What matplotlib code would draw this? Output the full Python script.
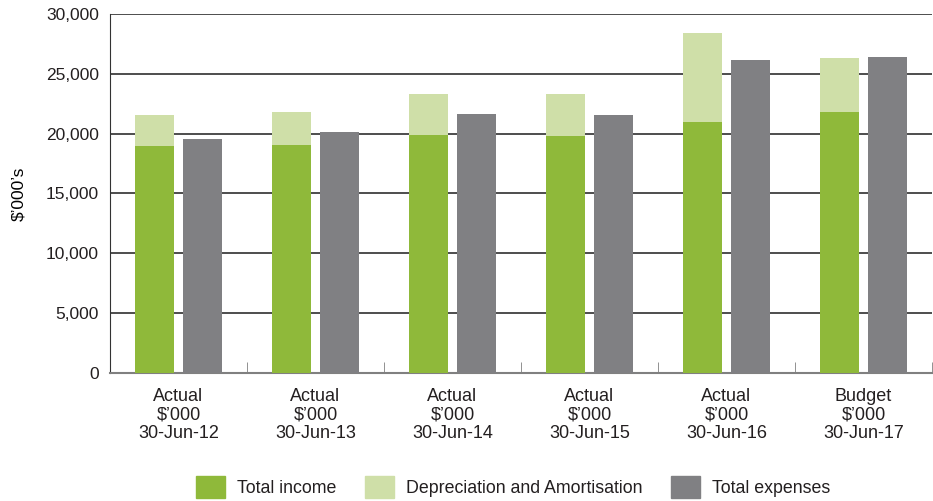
import numpy as np
import matplotlib.pyplot as plt
from matplotlib.patches import Patch
from matplotlib.ticker import FuncFormatter, MultipleLocator

plt.rcParams['font.family'] = ['Liberation Sans', 'DejaVu Sans']

# --- datos ---
categorias = ['Actual\n$’000\n30-Jun-12', 'Actual\n$’000\n30-Jun-13',
              'Actual\n$’000\n30-Jun-14', 'Actual\n$’000\n30-Jun-15',
              'Actual\n$’000\n30-Jun-16', 'Budget\n$’000\n30-Jun-17']
ingresos = [18960, 19020, 19890, 19810, 20950, 21780]
depreciacion = [2570, 2760, 3430, 3510, 7450, 4530]
gastos = [19520, 20110, 21650, 21560, 26140, 26390]

verde = '#8fb93a'
verde_claro = '#cfdfa8'
gris = '#808083'
texto = '#231f20'

fig = plt.figure(figsize=(9.33, 5.01), dpi=100)
ax = fig.add_axes([110/933, 1 - 372.7/501, 822/933, 358.7/501])

x = np.arange(len(categorias))
ancho = 0.285
ax.bar(x - 0.178, ingresos, ancho, color=verde, zorder=3)
ax.bar(x - 0.178, depreciacion, ancho, bottom=ingresos, color=verde_claro, zorder=3)
ax.bar(x + 0.178, gastos, ancho, color=gris, zorder=3)

ax.set_xlim(-0.5, 5.5)
ax.set_ylim(0, 30000)
ax.yaxis.set_major_locator(MultipleLocator(5000))
ax.yaxis.set_major_formatter(FuncFormatter(lambda v, p: f'{int(v):,}'))
ax.grid(axis='y', color='#4d4d4d', linewidth=1.4, zorder=0)

ax.set_xticks(x)
ax.set_xticklabels(categorias, fontsize=13, color=texto, linespacing=1.12)
ax.set_xticks(np.arange(-0.5, 6, 1), minor=True)
ax.tick_params(axis='x', which='major', length=0, pad=11)
ax.tick_params(axis='x', which='minor', length=8, direction='in', color='#808080')
ax.tick_params(axis='y', length=0, pad=8, labelsize=12.5, labelcolor=texto)

for lado in ['top', 'right']:
    ax.spines[lado].set_visible(False)
ax.spines['left'].set_color('#333333')
ax.spines['bottom'].set_color('#808080')
ax.spines['bottom'].set_linewidth(1.5)

ax.set_ylabel('$’000’s', fontsize=12.5, color='black', labelpad=14)

handles = [Patch(color=verde, label='Total income'),
           Patch(color=verde_claro, label='Depreciation and Amortisation'),
           Patch(color=gris, label='Total expenses')]
fig.legend(handles=handles, loc='center', bbox_to_anchor=(513/933, 1 - 487/501),
           ncol=3, frameon=False, fontsize=12.8, handlelength=1.63, handleheight=1.5,
           handletextpad=0.68, columnspacing=1.6, labelcolor=texto)

plt.savefig('out.png', dpi=100)
